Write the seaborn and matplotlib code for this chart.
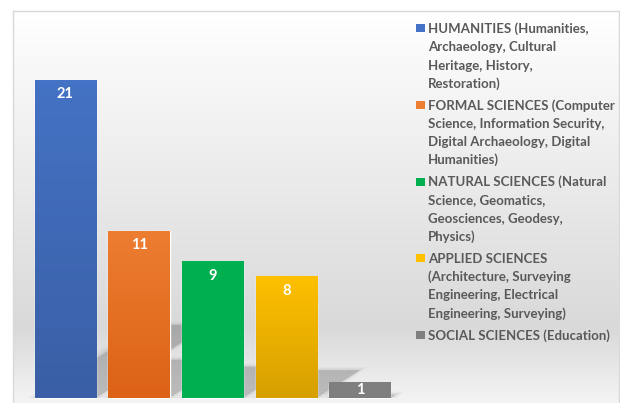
import numpy as np
import pandas as pd
import matplotlib
matplotlib.use("Agg")
import matplotlib.pyplot as plt
from matplotlib.colors import LinearSegmentedColormap
from matplotlib.patches import Polygon, Rectangle
import seaborn as sns

# Chart data
categories = ["HUMANITIES", "FORMAL SCIENCES", "NATURAL SCIENCES",
              "APPLIED SCIENCES", "SOCIAL SCIENCES"]
counts = [21, 11, 9, 8, 1]
legend_labels = [
    "HUMANITIES (Humanities,\nArchaeology, Cultural\nHeritage, History,\nRestoration)",
    "FORMAL SCIENCES (Computer\nScience, Information Security,\nDigital Archaeology, Digital\nHumanities)",
    "NATURAL SCIENCES (Natural\nScience, Geomatics,\nGeosciences, Geodesy,\nPhysics)",
    "APPLIED SCIENCES\n(Architecture, Surveying\nEngineering, Electrical\nEngineering, Surveying)",
    "SOCIAL SCIENCES (Education)",
]
top_colors = ["#4472C4", "#ED7D31", "#00B050", "#FFC000", "#7F7F7F"]
bottom_colors = ["#3A5FA6", "#DC6216", "#00B050", "#D6A000", "#7F7F7F"]

FONT = "Lato"
W, H = 620, 403


def draw_legend(fig):
    """Legend with the swatch lined up on the first line of each label."""
    line_h, entry_gap = 18.2, 3.8
    y = 28.3  # centre of the first line, pixels from the top
    for label, color in zip(legend_labels, top_colors):
        fig.add_artist(Rectangle((416 / W, 1 - (y + 4) / H), 9 / W, 8 / H,
                                 transform=fig.transFigure,
                                 facecolor=color, edgecolor="none"))
        for line in label.split("\n"):
            fig.text(428 / W, 1 - (y + 4.8) / H, line, ha="left",
                     va="baseline", fontsize=9.5, fontweight="bold",
                     color="#595959", family=[FONT, "DejaVu Sans"])
            y += line_h
        y += entry_gap


def main():
    sns.set_style("white")
    plt.rcParams["font.family"] = [FONT, "DejaVu Sans"]

    fig = plt.figure(figsize=(W / 100, H / 100), dpi=100)
    ax = fig.add_axes([13 / W, 0, 606 / W, 392 / H])

    # Soft grey background gradient
    bg_cmap = LinearSegmentedColormap.from_list(
        "bg", [(0, "#f4f4f4"), (0.19, "#d9d9d9"), (1, "#ffffff")])
    ax.imshow(np.linspace(0, 1, 256).reshape(-1, 1), cmap=bg_cmap,
              aspect="auto", extent=[0, 1, 0, 1], transform=ax.transAxes,
              origin="lower", zorder=0)

    df = pd.DataFrame({"category": categories, "count": counts})
    sns.barplot(data=df, x="category", y="count", hue="category",
                palette=dict(zip(categories, top_colors)), saturation=1,
                width=0.83, legend=False, ax=ax, zorder=3)

    bars = list(ax.patches)
    for bar, c_top, c_bot in zip(bars, top_colors, bottom_colors):
        x0, w, h = bar.get_x(), bar.get_width(), bar.get_height()

        # perspective shadow going up-right, softened with a few layers
        for grow, alpha in [(0.0, 0.15), (0.05, 0.05), (0.1, 0.03)]:
            shadow = Polygon(
                [(x0 - grow, 0), (x0 + w + grow, 0),
                 (x0 + w + 0.073 * h + grow, 0.23 * h + grow * 2),
                 (x0 + 0.073 * h - grow, 0.23 * h + grow * 2)],
                closed=True, facecolor="black", edgecolor="none",
                alpha=alpha, zorder=1)
            ax.add_patch(shadow)

        # vertical gradient fill
        cmap = LinearSegmentedColormap.from_list("g", [c_bot, c_top])
        ax.imshow(np.linspace(0, 1, 64).reshape(-1, 1), cmap=cmap,
                  aspect="auto", extent=[x0, x0 + w, 0, h], origin="lower",
                  zorder=3.5)

    ax.set_xlim(-0.712, 7.52)
    ax.set_ylim(-0.33, 25.56)

    # value labels inside bar tops
    px_per_unit = ax.transData.transform((0, 1))[1] - ax.transData.transform((0, 0))[1]
    for bar, v in zip(bars, counts):
        h_px = bar.get_height() * px_per_unit
        off_px = min(14, h_px / 2)
        ax.annotate(str(v), xy=(bar.get_x() + bar.get_width() / 2, bar.get_height()),
                    xytext=(0, -off_px * 0.72), textcoords="offset points",
                    ha="center", va="center", color="white", fontweight="bold",
                    fontsize=10.5, zorder=5)

    ax.set_xticks([])
    ax.set_yticks([])
    ax.set_xlabel("")
    ax.set_ylabel("")
    for side in ["left", "top", "right"]:
        ax.spines[side].set_color("#d9d9d9")
        ax.spines[side].set_linewidth(1)
    ax.spines["bottom"].set_visible(False)

    draw_legend(fig)

    fig.savefig("out.png", dpi=100)
    plt.close(fig)


if __name__ == "__main__":
    main()
